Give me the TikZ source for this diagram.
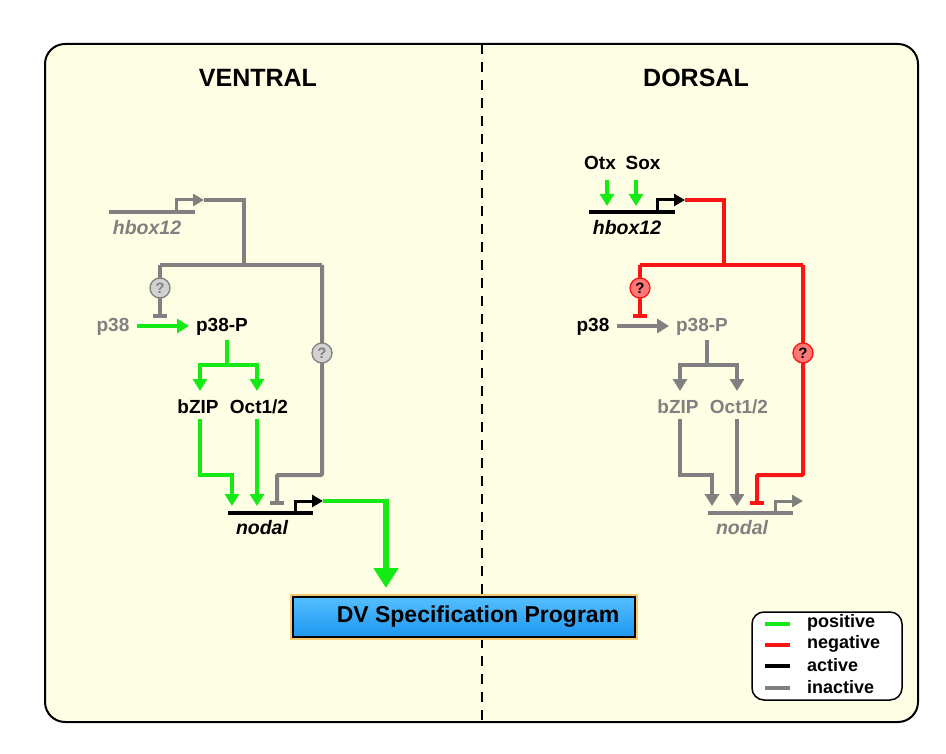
\documentclass[tikz,border=0pt]{standalone}
\usepackage{fontspec}
\setmainfont{Liberation Sans}
\usetikzlibrary{arrows.meta,calc}

\definecolor{paper}{RGB}{254,254,228}
\definecolor{posgreen}{RGB}{20,235,20}
\definecolor{negred}{RGB}{250,20,20}
\definecolor{inact}{RGB}{128,128,128}
\definecolor{qgray}{RGB}{210,210,210}
\definecolor{qred}{RGB}{255,120,120}
\definecolor{dvtop}{RGB}{85,190,255}
\definecolor{dvbot}{RGB}{30,150,240}
\definecolor{glow}{RGB}{240,180,50}

\tikzset{
  lbl/.style={font=\fontsize{19}{19}\selectfont\bfseries, inner sep=0pt},
  genelbl/.style={font=\fontsize{19.5}{20}\selectfont\bfseries\itshape, inner sep=0pt},
  title/.style={font=\fontsize{25}{25}\selectfont\bfseries, inner sep=0pt},
  legtxt/.style={font=\fontsize{18}{18}\selectfont\bfseries, inner sep=0pt, anchor=west},
  link/.style={line width=4pt},
  gene/.style={line width=4pt},
  prom/.style={line width=3pt, -{Triangle[length=11pt,width=12pt]}},
  arr/.style={-{Triangle[length=12pt,width=14pt]}},
  blunt/.style={-{Bar[width=14pt]}},
  qmark/.style={circle, draw, line width=1.3pt, minimum size=20pt, inner sep=0pt,
    font=\fontsize{15}{15}\selectfont\bfseries},
}

\begin{document}
\begin{tikzpicture}[x=1pt,y=-1pt]
  \useasboundingbox (0,0) rectangle (946,754);
  %%%%% FRAME %%%%%
  \fill[white] (0,0) rectangle (946,754);
  \draw[line width=2pt, rounded corners=20pt, fill=paper] (45,44) rectangle (918,722);
  \draw[line width=2.5pt, dash pattern=on 10pt off 8pt] (482,44) -- (482,722);

  \node[title] (ventral) at (258,78) {VENTRAL};
  \node[title] (dorsal) at (696,78) {DORSAL};

  %%%%% VENTRAL %%%%%
  \node[genelbl, text=inact] (vhbox) at (147,228) {hbox12};
  \node[lbl, text=inact] (vp38) at (113,327) {p38};
  \node[lbl] (vp38p) at (222,327) {p38-P};
  \node[lbl] (vbzip) at (198,407) {bZIP};
  \node[lbl] (voct) at (259,407) {Oct1/2};
  \node[genelbl] (vnodal) at (262,528) {nodal};

  % genes
  \draw[gene, inact] (109,212) -- (195,212);
  \draw[prom, inact] (176,213) |- (204,200) coordinate (vhtip);
  \draw[gene] (228,513) -- (313,513);
  \draw[prom] (295,514) |- (323,501) coordinate (vntip);

  % hbox12 feedback
  \coordinate (vjoin) at (244,265);
  \coordinate (vleft) at (160,265);
  \coordinate (vright) at (322,265);
  \draw[link, inact] (vhtip) -| (vjoin);
  \draw[link, inact] (vleft) -- (vright);
  \draw[link, inact, blunt] (vleft) -- (160,318) coordinate (vbar1);
  \draw[link, inact, blunt, rounded corners=1pt] (vright) |- (277,475) -- (277,505) coordinate (vbar2);
  \node[qmark, fill=qgray, draw=inact, text=inact] (vq1) at (160,288) {?};
  \node[qmark, fill=qgray, draw=inact, text=inact] (vq2) at (322,353) {?};

  % p38 cascade
  \draw[link, posgreen, arr] (137,326) -- (189,326);
  \coordinate (vsplit) at (227,365);
  \draw[link, posgreen] (227,340) -- (vsplit);
  \draw[link, posgreen, arr] (vsplit) -| (200,391);
  \draw[link, posgreen, arr] (vsplit) -| (257,391);
  \draw[link, posgreen, arr] (200,419) |- (232,475) -- (232,506);
  \draw[link, posgreen, arr] (257,419) -- (257,506);

  % output
  \coordinate (vout) at (386,501);
  \draw[link, posgreen] (vntip) -- (vout);
  \draw[line width=6pt, posgreen, -{Triangle[length=20pt,width=24pt]}] (386,499) -- (386,588);

  %%%%% DORSAL %%%%%
  \node[lbl] (dotx) at (600,163) {Otx};
  \node[lbl] (dsox) at (643,163) {Sox};
  \node[genelbl] (dhbox) at (627,228) {hbox12};
  \node[lbl] (dp38) at (593,327) {p38};
  \node[lbl, text=inact] (dp38p) at (702,327) {p38-P};
  \node[lbl, text=inact] (dbzip) at (678,407) {bZIP};
  \node[lbl, text=inact] (doct) at (739,407) {Oct1/2};
  \node[genelbl, text=inact] (dnodal) at (742,528) {nodal};

  % genes
  \draw[gene] (589,212) -- (675,212);
  \draw[prom] (657,213) |- (685,200) coordinate (dhtip);
  \draw[gene, inact] (708,513) -- (793,513);
  \draw[prom, inact] (775,514) |- (803,501) coordinate (dntip);

  % Otx / Sox inputs
  \draw[link, posgreen, arr] (dotx.south) ++(7,10) -- (607,206);
  \draw[link, posgreen, arr] (dsox.south) ++(-7,10) -- (636,206);

  % hbox12 feedback
  \coordinate (djoin) at (724,265);
  \coordinate (dleft) at (640,265);
  \coordinate (dright) at (803,265);
  \draw[link, negred] (dhtip) -| (djoin);
  \draw[link, negred] (dleft) -- (dright);
  \draw[link, negred, blunt] (dleft) -- (640,318) coordinate (dbar1);
  \draw[link, negred, blunt, rounded corners=1pt] (dright) |- (757,475) -- (757,505) coordinate (dbar2);
  \node[qmark, fill=qred, draw=negred] (dq1) at (640,288) {?};
  \node[qmark, fill=qred, draw=negred] (dq2) at (803,353) {?};

  % p38 cascade
  \draw[link, inact, arr] (617,326) -- (669,326);
  \coordinate (dsplit) at (707,365);
  \draw[link, inact] (707,340) -- (dsplit);
  \draw[link, inact, arr] (dsplit) -| (680,391);
  \draw[link, inact, arr] (dsplit) -| (737,391);
  \draw[link, inact, arr] (680,419) |- (712,475) -- (712,506);
  \draw[link, inact, arr] (737,419) -- (737,506);

  %%%%% DV PROGRAM %%%%%
  \draw[line width=6pt, glow!70] (293,597) rectangle (635,637);
  \node[draw, line width=1.6pt, top color=dvtop, bottom color=dvbot,
    minimum width=342pt, minimum height=40pt, inner sep=0pt] (dvbox) at (464,617) {};
  \node[font=\fontsize{23}{23}\selectfont\bfseries, inner sep=0pt] (dvtext) at (478,617) {DV Specification Program};

  %%%%% LEGEND %%%%%
  \node[draw, line width=1.5pt, rounded corners=12pt, fill=white,
    minimum width=150pt, minimum height=88pt] (legend) at (827,656) {};
  \draw[line width=4pt, posgreen] (765,624) -- (790,624);
  \draw[line width=4pt, negred] (765,645) -- (790,645);
  \draw[line width=4pt, black] (765,666) -- (790,666);
  \draw[line width=4pt, inact] (765,688) -- (790,688);
  \node[legtxt] (lpos) at (807,623) {positive};
  \node[legtxt] (lneg) at (807,644) {negative};
  \node[legtxt] (lact) at (807,665) {active};
  \node[legtxt] (lina) at (807,687) {inactive};
\end{tikzpicture}
\end{document}
